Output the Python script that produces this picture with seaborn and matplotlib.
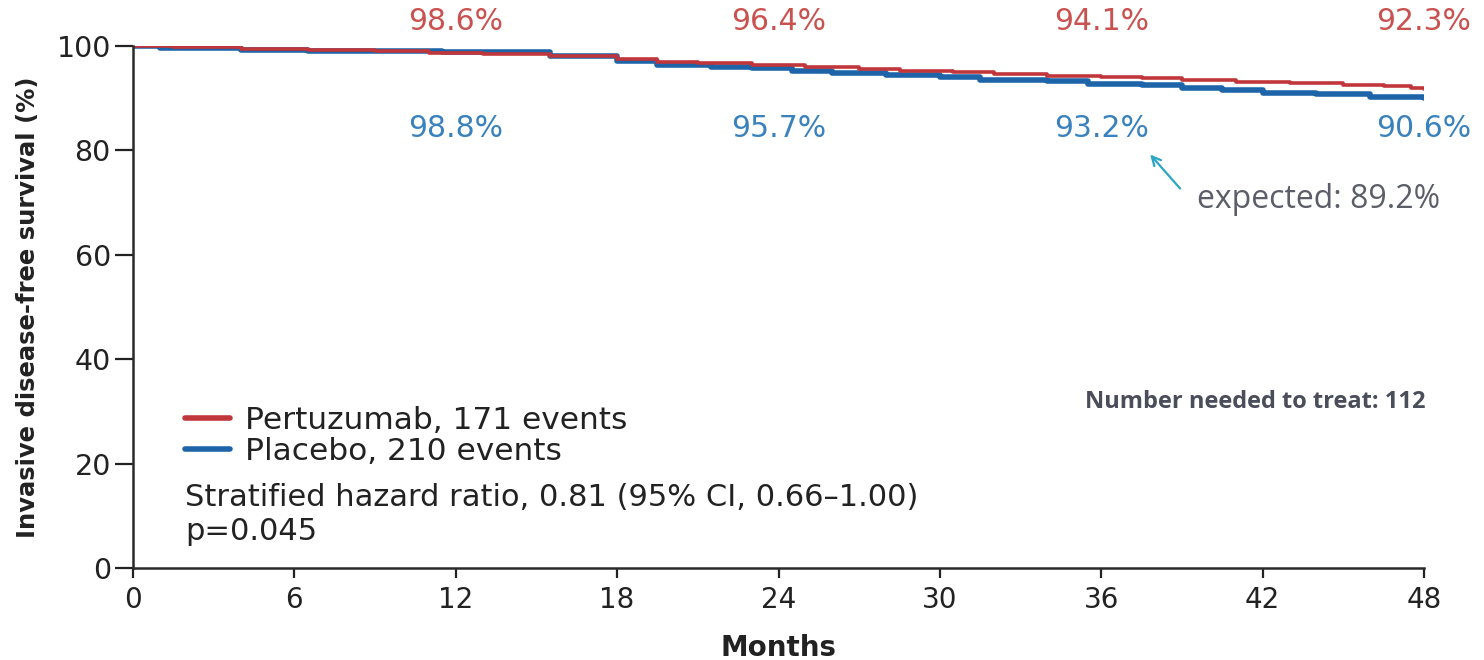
import numpy as np
import pandas as pd
import matplotlib
matplotlib.use("Agg")
import matplotlib.pyplot as plt
import seaborn as sns

# ---- data ----
months_pert = [0, 1.5, 4, 6.5, 9, 11, 13, 15.5, 18, 19.5, 21, 23, 25, 27, 28.5, 30.5, 32, 34, 36, 37.5, 39, 41, 43, 45, 46.5, 47.5, 48]
surv_pert   = [100, 99.8, 99.5, 99.3, 99.0, 98.7, 98.5, 98.1, 97.5, 97.0, 96.7, 96.4, 96.0, 95.6, 95.2, 95.0, 94.6, 94.3, 94.1, 93.8, 93.5, 93.1, 92.9, 92.6, 92.4, 92.0, 91.7]
months_plac = [0, 1, 4, 6.5, 9, 11.5, 15.5, 18, 19.5, 21.5, 23, 24.5, 26, 28, 30, 31.5, 34, 35.5, 37.5, 39, 40.5, 42, 44, 46, 48]
surv_plac   = [100, 99.6, 99.3, 99.0, 99.1, 98.8, 98.0, 97.2, 96.4, 96.0, 95.7, 95.3, 94.9, 94.4, 94.0, 93.5, 93.2, 92.8, 92.5, 92.0, 91.6, 91.0, 90.9, 90.3, 90.1]

label_months = [12, 24, 36, 48]
pert_labels = ["98.6%", "96.4%", "94.1%", "92.3%"]
plac_labels = ["98.8%", "95.7%", "93.2%", "90.6%"]

x_ticks = [0, 6, 12, 18, 24, 30, 36, 42, 48]
y_ticks = [0, 20, 40, 60, 80, 100]

RED = "#c0363a"
BLUE = "#1e64a8"
RED_TXT = "#c9514f"
BLUE_TXT = "#3a82bd"
INK = "#222222"

sns.set_theme(style="ticks")
plt.rcParams["font.family"] = ["DejaVu Sans"]

df = pd.concat([
    pd.DataFrame({"Months": months_plac, "Survival": surv_plac, "Arm": "Placebo, 210 events"}),
    pd.DataFrame({"Months": months_pert, "Survival": surv_pert, "Arm": "Pertuzumab, 171 events"}),
])

fig = plt.figure(figsize=(14.84, 6.6), dpi=100)
ax = fig.add_axes([133/1484, 92/660, (1424-133)/1484, (568-46)/660])

sns.lineplot(data=df[df.Arm.str.startswith("Placebo")], x="Months", y="Survival", color=BLUE,
             lw=4.0, drawstyle="steps-post", ax=ax, label="Placebo, 210 events", estimator=None)
sns.lineplot(data=df[df.Arm.str.startswith("Pertuzumab")], x="Months", y="Survival", color=RED,
             lw=2.6, drawstyle="steps-post", ax=ax, label="Pertuzumab, 171 events", estimator=None)

ax.set_xlim(0, 48)
ax.set_ylim(0, 100)
ax.set_xticks(x_ticks)
ax.set_yticks(y_ticks)
ax.tick_params(axis="y", length=13, width=1.6, labelsize=20.5, colors=INK, pad=3)
ax.tick_params(axis="x", length=7, width=1.6, labelsize=20, colors=INK, pad=6)
for s in ["left", "bottom"]:
    ax.spines[s].set_linewidth(1.8)
    ax.spines[s].set_color("#2a2a2a")
sns.despine(ax=ax)

ax.set_xlabel("Months", fontsize=20, fontweight="bold", color=INK, labelpad=14)
ax.set_ylabel("Invasive disease-free survival (%)", fontsize=17.5, fontweight="bold", color=INK, labelpad=12)

# legend
h, l = ax.get_legend_handles_labels()
order = [1, 0]
leg = ax.legend([h[i] for i in order], [l[i] for i in order], loc="upper left",
                bbox_to_anchor=((185-133)/1291, (568-406)/522), frameon=False,
                fontsize=22.5, handlelength=1.45, handletextpad=0.48, labelspacing=0.05,
                borderaxespad=0, borderpad=0)
for lh in leg.get_lines():
    lh.set_linewidth(4)
for t in leg.get_texts():
    t.set_color(INK)

ax.text((185-133)/1291*48, (568-497)/5.22, "Stratified hazard ratio, 0.81 (95% CI, 0.66\u20131.00)",
        fontsize=22, color=INK, va="center", ha="left")
ax.text((185-133)/1291*48, (568-532)/5.22, "p=0.045", fontsize=22, color=INK, va="center", ha="left")

# percentage labels
for m, pl, bl in zip(label_months, pert_labels, plac_labels):
    ax.text(m, 104.6, pl, color=RED_TXT, fontsize=21.5, ha="center", va="center", clip_on=False)
    ax.text(m, 84.2, bl, color=BLUE_TXT, fontsize=21.5, ha="center", va="center", clip_on=False)

# annotation
ax.annotate("", xy=(37.75, 79.6), xytext=(39.0, 72.3),
            arrowprops=dict(arrowstyle="->", color="#2aa6c6", lw=1.6, mutation_scale=16))
ax.text(39.55, 70.6, "expected: 89.2%", fontsize=23, color="#5b5e68", ha="left", va="center",
        family=["Open Sans", "DejaVu Sans"], clip_on=False)
ax.text(48.05, 31.8, "Number needed to treat: 112", fontsize=17, color="#4a4d5a", fontweight="bold",
        ha="right", va="center", family=["Open Sans", "DejaVu Sans"])

fig.savefig("out.png", dpi=100)
